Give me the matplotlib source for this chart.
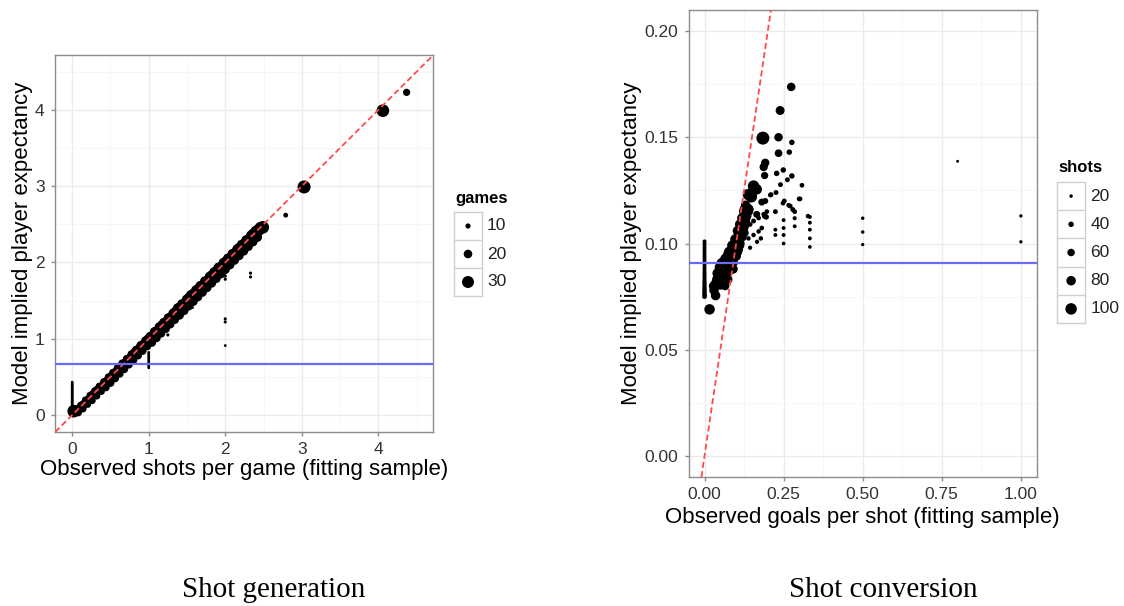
import matplotlib
matplotlib.use("Agg")
import matplotlib.pyplot as plt
import numpy as np

W, H = 1124, 606
plt.rcParams['font.family'] = ['Liberation Sans', 'DejaVu Sans']

# ---------------- data: shot generation ----------------
gen_x = [0.03, 0.06, 0.09, 0.12, 0.15, 0.18, 0.21, 0.24, 0.27, 0.30, 0.33, 0.36, 0.39, 0.42, 0.45, 0.48,
         0.51, 0.54, 0.57, 0.60, 0.63, 0.66, 0.69, 0.72, 0.75, 0.78, 0.81, 0.84, 0.87, 0.90, 0.93, 0.96,
         0.99, 1.02, 1.05, 1.08, 1.11, 1.14, 1.17, 1.20, 1.23, 1.26, 1.29, 1.32, 1.35, 1.38, 1.41, 1.44,
         1.47, 1.50, 1.53, 1.56, 1.59, 1.62, 1.65, 1.68, 1.71, 1.74, 1.77, 1.80, 1.83, 1.86, 1.89, 1.92,
         1.95, 1.98, 2.01, 2.04, 2.07, 2.10, 2.13, 2.16, 2.19, 2.22, 2.25, 2.28, 2.31, 2.34, 2.37, 2.40,
         2.43, 2.46, 2.49,
         0.08, 0.14, 0.20, 0.26, 0.32, 0.38, 0.44, 0.50, 0.56, 0.62, 0.68, 0.74, 0.80, 0.86, 0.92, 0.98,
         1.04, 1.10, 1.16, 1.22, 1.28, 1.34, 1.40, 1.46, 1.52, 1.58, 1.64, 1.70, 1.76, 1.82, 1.88, 1.94,
         2.00, 2.06, 2.12, 2.18, 2.24, 2.30, 2.36, 2.42,
         0.11, 0.17, 0.23, 0.29, 0.35, 0.41, 0.47, 0.53, 0.59, 0.65, 0.71, 0.77, 0.83, 0.89, 0.95, 1.01,
         1.07, 1.13, 1.19, 1.25, 1.31, 1.37, 1.43, 1.49, 1.55, 1.61, 1.67, 1.73, 1.79, 1.85, 1.91, 1.97,
         2.03, 2.09, 2.15, 2.21, 2.27, 2.33, 2.39, 2.45,
         0.02, 0.00, 0.00, 0.00, 0.00, 0.00, 0.00, 0.00, 0.00, 0.00, 0.00, 0.00, 0.00,
         0.00, 0.00, 0.00, 0.00, 0.00, 0.00, 0.00, 0.00, 0.00, 0.00, 0.00, 0.00,
         1.00, 1.00, 1.00, 1.00, 1.00, 1.00, 1.00, 1.00, 1.00, 1.00, 1.00,
         1.25, 1.57, 2.00, 2.00, 2.00, 2.00, 2.00, 2.00, 2.33, 2.33,
         2.79, 3.03, 4.06, 4.37]
gen_y = [0.04, 0.07, 0.08, 0.12, 0.14, 0.18, 0.20, 0.23, 0.27, 0.29, 0.33, 0.35, 0.38, 0.42, 0.44, 0.47,
         0.50, 0.54, 0.56, 0.59, 0.63, 0.65, 0.68, 0.72, 0.74, 0.77, 0.81, 0.83, 0.86, 0.90, 0.92, 0.95,
         0.99, 1.01, 1.04, 1.08, 1.10, 1.13, 1.17, 1.19, 1.22, 1.26, 1.28, 1.31, 1.35, 1.37, 1.40, 1.44,
         1.46, 1.49, 1.53, 1.56, 1.58, 1.61, 1.65, 1.67, 1.70, 1.74, 1.76, 1.79, 1.83, 1.85, 1.88, 1.92,
         1.94, 1.97, 2.01, 2.03, 2.06, 2.10, 2.12, 2.15, 2.19, 2.21, 2.24, 2.28, 2.30, 2.33, 2.37, 2.39,
         2.42, 2.45, 2.46,
         0.03, 0.08, 0.14, 0.19, 0.25, 0.31, 0.36, 0.42, 0.48, 0.54, 0.60, 0.66, 0.72, 0.78, 0.84, 0.90,
         0.95, 1.01, 1.07, 1.13, 1.19, 1.25, 1.31, 1.37, 1.43, 1.49, 1.55, 1.61, 1.67, 1.73, 1.79, 1.85,
         1.91, 1.97, 2.03, 2.09, 2.15, 2.21, 2.27, 2.33,
         0.13, 0.20, 0.26, 0.32, 0.38, 0.44, 0.50, 0.56, 0.62, 0.68, 0.74, 0.80, 0.86, 0.92, 0.98, 1.04,
         1.10, 1.16, 1.22, 1.28, 1.34, 1.41, 1.46, 1.52, 1.58, 1.64, 1.70, 1.76, 1.82, 1.88, 1.94, 2.00,
         2.06, 2.12, 2.18, 2.24, 2.30, 2.36, 2.42, 2.47,
         0.05, 0.08, 0.095, 0.11, 0.125, 0.14, 0.155, 0.17, 0.185, 0.20, 0.215, 0.23, 0.245,
         0.26, 0.275, 0.29, 0.305, 0.32, 0.335, 0.35, 0.365, 0.38, 0.395, 0.41, 0.43,
         0.62, 0.64, 0.66, 0.68, 0.70, 0.72, 0.74, 0.76, 0.78, 0.80, 0.82,
         1.05, 1.41, 0.91, 1.22, 1.26, 1.78, 1.82, 1.86, 1.81, 1.86,
         2.62, 2.99, 3.99, 4.23]
gen_games = [20, 20, 20, 20, 20, 20, 20, 20, 20, 20, 20, 20, 20, 21, 21, 21,
             22, 22, 22, 22, 22, 22, 22, 22, 22, 23, 23, 23, 23, 24, 24, 24,
             24, 24, 24, 24, 25, 25, 25, 25, 25, 25, 25, 25, 26, 26, 30, 26,
             26, 26, 28, 30, 30, 27, 27, 27, 27, 27, 27, 27, 27, 27, 28, 30,
             27, 27, 27, 27, 27, 27, 27, 27, 27, 27, 27, 27, 27, 28, 29, 29,
             30, 30, 32,
             16, 16, 16, 16, 16, 16, 17, 18, 18, 18, 18, 18, 18, 18, 18, 18,
             20, 20, 20, 20, 20, 20, 22, 22, 22, 22, 22, 22, 22, 22, 22, 22,
             22, 22, 22, 22, 22, 22, 22, 22,
             14, 14, 14, 14, 14, 14, 15, 15, 16, 16, 16, 16, 16, 16, 16, 16,
             18, 18, 18, 18, 18, 18, 20, 20, 20, 20, 20, 20, 20, 20, 20, 20,
             20, 20, 20, 20, 20, 20, 20, 20,
             32, 3, 3, 3, 3, 3, 3, 3, 3, 3, 3, 3, 3,
             3, 3, 3, 3, 3, 3, 3, 3, 3, 3, 3, 3,
             3, 3, 3, 3, 3, 3, 3, 3, 3, 3, 3,
             4, 4, 3, 4, 4, 4, 4, 4, 4, 4,
             9, 33, 32, 16]
gen_mean = 0.67
games_breaks = [10, 20, 30]

# ---------------- data: shot conversion ----------------
conv_x = [0.000, 0.000, 0.000, 0.000, 0.000, 0.000, 0.000, 0.000, 0.000, 0.000, 0.000, 0.000, 0.000, 0.000,
          0.000, 0.000, 0.000, 0.000, 0.000, 0.000, 0.000, 0.000, 0.000, 0.000, 0.000, 0.000, 0.000,
          0.016, 0.035, 0.028,
          0.030, 0.036, 0.042, 0.048, 0.055, 0.060, 0.066, 0.071, 0.076, 0.080, 0.085, 0.089, 0.093, 0.098,
          0.102, 0.106, 0.110, 0.114, 0.118, 0.122, 0.126, 0.130, 0.134, 0.138,
          0.050, 0.060, 0.070, 0.078, 0.085, 0.092, 0.100, 0.108, 0.115, 0.120, 0.128,
          0.044, 0.052, 0.062, 0.072, 0.082, 0.092,
          0.040, 0.048, 0.058, 0.068, 0.078, 0.088, 0.097, 0.105, 0.112, 0.118, 0.124, 0.130,
          0.065, 0.075, 0.090, 0.102, 0.110,
          0.148, 0.155, 0.165, 0.181, 0.139, 0.129, 0.140, 0.165,
          0.144, 0.155, 0.171, 0.187, 0.197, 0.139, 0.155, 0.171, 0.181, 0.166, 0.178, 0.144, 0.118, 0.190,
          0.195, 0.210, 0.192,
          0.1845, 0.239, 0.274, 0.234, 0.276, 0.234, 0.268, 0.192, 0.187, 0.190, 0.249, 0.228, 0.276,
          0.262, 0.308, 0.240, 0.252, 0.302, 0.224, 0.266, 0.279, 0.327, 0.208, 0.226, 0.299, 0.248,
          0.271, 0.285,
          0.333, 0.333, 0.333, 0.333, 0.333, 0.250, 0.250, 0.250, 0.250, 0.285, 0.285, 0.224, 0.224,
          0.500, 0.500, 0.500, 1.000, 1.000, 0.800]
conv_y = [0.0750, 0.0760, 0.0770, 0.0780, 0.0790, 0.0800, 0.0810, 0.0820, 0.0830, 0.0840, 0.0850, 0.0860,
          0.0870, 0.0880, 0.0890, 0.0900, 0.0910, 0.0920, 0.0930, 0.0940, 0.0950, 0.0960, 0.0970, 0.0980,
          0.0990, 0.1000, 0.1010,
          0.069, 0.0755, 0.080,
          0.078, 0.081, 0.083, 0.085, 0.087, 0.089, 0.090, 0.091, 0.092, 0.093, 0.094, 0.096, 0.097, 0.099,
          0.100, 0.102, 0.104, 0.106, 0.107, 0.108, 0.111, 0.113, 0.116, 0.116,
          0.080, 0.082, 0.085, 0.087, 0.089, 0.091, 0.094, 0.097, 0.100, 0.103, 0.105,
          0.089, 0.091, 0.093, 0.095, 0.097, 0.100,
          0.086, 0.088, 0.091, 0.093, 0.096, 0.099, 0.102, 0.106, 0.109, 0.112, 0.115, 0.118,
          0.080, 0.083, 0.088, 0.096, 0.099,
          0.122, 0.127, 0.1255, 0.1195, 0.123, 0.116, 0.115, 0.1137,
          0.109, 0.1106, 0.112, 0.1138, 0.115, 0.1024, 0.104, 0.1057, 0.1073, 0.1008, 0.1024, 0.098, 0.099, 0.1129,
          0.1125, 0.123, 0.120,
          0.1496, 0.1626, 0.1737, 0.150, 0.1476, 0.1425, 0.143, 0.138, 0.136, 0.132, 0.1346, 0.133, 0.1318,
          0.130, 0.1274, 0.1277, 0.120, 0.121, 0.115, 0.118, 0.116, 0.1129, 0.1228, 0.124, 0.121, 0.119,
          0.1176, 0.115,
          0.1125, 0.1098, 0.1065, 0.1024, 0.0984, 0.111, 0.1073, 0.104, 0.100, 0.1119, 0.1081, 0.1065, 0.104,
          0.1119, 0.1054, 0.0995, 0.113, 0.1008, 0.1387]
conv_shots = [32, 32, 30, 30, 30, 28, 28, 28, 26, 26, 26, 26, 24, 24, 24, 24, 24, 24, 24, 24, 24, 24,
              24, 24, 24, 24, 24,
              90, 80, 75,
              80, 90, 100, 100, 100, 100, 100, 95, 100, 95, 100, 100, 100, 105,
              100, 95, 100, 100, 100, 100, 100, 100, 105, 95,
              60, 70, 80, 70, 80, 70, 80, 70, 60, 70, 60,
              60, 70, 60, 70, 60, 70,
              80, 85, 90, 90, 90, 90, 85, 85, 85, 80, 80, 80,
              70, 70, 80, 90, 80,
              100, 100, 90, 55, 100, 100, 70, 55,
              34, 34, 32, 32, 32, 30, 30, 30, 32, 28, 30, 28, 34, 40,
              40, 34, 45,
              115, 75, 70, 70, 40, 62, 40, 68, 68, 58, 40, 40, 40,
              34, 32, 34, 34, 32, 34, 32, 34, 30, 32, 34, 32, 32,
              32, 32,
              24, 24, 24, 24, 22, 24, 24, 24, 22, 26, 24, 24, 24,
              20, 20, 18, 18, 18, 14]
conv_mean = 0.091
shots_breaks = [20, 40, 60, 80, 100]


def gen_size(g):
    d = 1.8 + 0.34 * np.asarray(g, dtype=float)   # diameter in px
    return (d * 72.0 / 100.0) ** 2


def conv_size(s):
    d = 1.5 + 0.1 * np.asarray(s, dtype=float)
    return (d * 72.0 / 100.0) ** 2


fig = plt.figure(figsize=(W / 100, H / 100), dpi=100)
fig.patch.set_facecolor('white')


def px_axes(x0, y0, x1, y1):
    return fig.add_axes([x0 / W, 1 - y1 / H, (x1 - x0) / W, (y1 - y0) / H])


def style(ax):
    for sp in ax.spines.values():
        sp.set_color('#8C8C8C')
        sp.set_linewidth(1.0)
    ax.set_facecolor('white')
    ax.grid(True, which='major', color='#EBEBEB', lw=1.0, zorder=0)
    ax.grid(True, which='minor', color='#F6F6F6', lw=0.7, zorder=0)
    ax.set_axisbelow(True)
    ax.tick_params(which='major', length=3, width=1, color='#8C8C8C', labelsize=12.5,
                   labelcolor='#333333', pad=4.5)
    ax.tick_params(which='minor', length=0)


# ---------- left panel ----------
ax1 = px_axes(55, 55, 433, 432)
style(ax1)
ax1.scatter(gen_x, gen_y, s=gen_size(gen_games), c='black', linewidths=0, zorder=3)
ax1.axline((0, 0), slope=1, color='#FF4A4A', lw=1.3, ls=(0, (3.3, 1.8)), zorder=4)
ax1.axhline(gen_mean, color='#6A6AFF', lw=1.6, zorder=4)
ax1.set_xlim(-0.225, 4.715)
ax1.set_ylim(-0.223, 4.72)
ax1.set_xticks([0, 1, 2, 3, 4])
ax1.set_yticks([0, 1, 2, 3, 4])
ax1.set_xticks([0.5, 1.5, 2.5, 3.5, 4.5], minor=True)
ax1.set_yticks([0.5, 1.5, 2.5, 3.5, 4.5], minor=True)
fig.text(244 / W, 1 - 470 / H, 'Observed shots per game (fitting sample)', fontsize=16,
         ha='center', va='center')
fig.text(23 / W, 1 - 243 / H, 'Model implied player expectancy', fontsize=16,
         ha='center', va='center', rotation=90)

# ---------- right panel ----------
ax2 = px_axes(688.7, 10, 1036.7, 477)
style(ax2)
ax2.scatter(conv_x, conv_y, s=conv_size(conv_shots), c='black', linewidths=0, zorder=3)
ax2.axline((0, 0), slope=1, color='#FF4A4A', lw=1.3, ls=(0, (3.3, 1.8)), zorder=4)
ax2.axhline(conv_mean, color='#6A6AFF', lw=1.6, zorder=4)
ax2.set_xlim(-0.05, 1.05)
ax2.set_ylim(-0.0099, 0.2099)
ax2.set_xticks([0, 0.25, 0.5, 0.75, 1.0])
ax2.set_xticklabels(['0.00', '0.25', '0.50', '0.75', '1.00'])
ax2.set_yticks([0, 0.05, 0.10, 0.15, 0.20])
ax2.set_yticklabels(['0.00', '0.05', '0.10', '0.15', '0.20'])
ax2.set_xticks([0.125, 0.375, 0.625, 0.875], minor=True)
ax2.set_yticks([0.025, 0.075, 0.125, 0.175], minor=True)
fig.text(862 / W, 1 - 517 / H, 'Observed goals per shot (fitting sample)', fontsize=16,
         ha='center', va='center')
fig.text(632 / W, 1 - 243 / H, 'Model implied player expectancy', fontsize=16,
         ha='center', va='center', rotation=90)


# ---------- legends ----------
def legend(x0, top, title, breaks, sizefn, key=28.0):
    n = len(breaks)
    fig.text((x0 + 1) / W, 1 - (top - 14) / H, title, fontsize=12, fontweight='bold',
             ha='left', va='center')
    lax = px_axes(x0, top, x0 + key, top + n * key)
    lax.set_xlim(0, 1)
    lax.set_ylim(0, n)
    lax.set_xticks([])
    lax.set_yticks([])
    for sp in lax.spines.values():
        sp.set_color('#D0D0D0')
        sp.set_linewidth(1.0)
    for i in range(1, n):
        lax.axhline(i, color='#D0D0D0', lw=1.0)
    ys = [n - i - 0.5 for i in range(n)]
    lax.scatter([0.5] * n, ys, s=sizefn(breaks), c='black', linewidths=0)
    for i, b in enumerate(breaks):
        fig.text((x0 + key + 5) / W, 1 - (top + (i + 0.5) * key) / H, str(b), fontsize=12.5,
                 ha='left', va='center', color='#222222')


legend(454, 212, 'games', games_breaks, gen_size)
legend(1057, 182, 'shots', shots_breaks, conv_size, key=28.2)

# ---------- captions ----------
fig.text(274 / W, 1 - 590 / H, 'Shot generation', fontsize=21,
         family=['Liberation Serif', 'DejaVu Serif'], ha='center', va='center')
fig.text(883 / W, 1 - 590 / H, 'Shot conversion', fontsize=21,
         family=['Liberation Serif', 'DejaVu Serif'], ha='center', va='center')

fig.savefig('out.png', dpi=100, facecolor='white')
